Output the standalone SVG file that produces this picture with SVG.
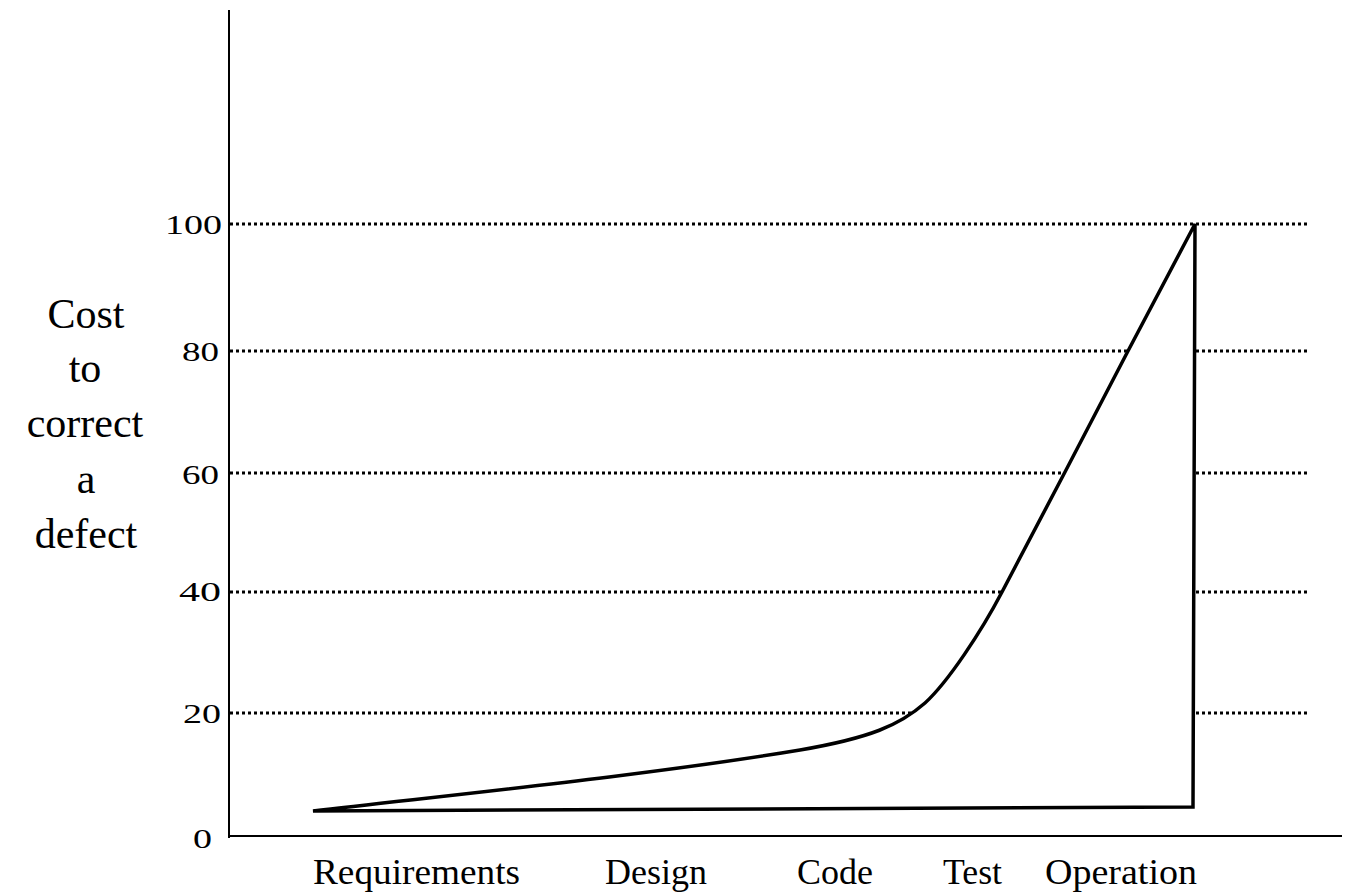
<svg xmlns="http://www.w3.org/2000/svg" width="1358" height="896" viewBox="0 0 1358 896">
  <style>
    .axis { stroke: #000; stroke-width: 2; fill: none; }
    .grid { stroke: #000; stroke-width: 3; stroke-dasharray: 3 3; fill: none; }
    .curve { stroke: #000; stroke-width: 3.5; fill: #fff; stroke-linejoin: miter; }
    .tick { font-family: "Liberation Serif", "Times New Roman", serif; font-size: 27px; fill: #000; text-anchor: end; }
    .ylab { font-family: "Liberation Serif", "Times New Roman", serif; font-size: 42px; fill: #000; text-anchor: middle; }
    .xlab { font-family: "Liberation Serif", "Times New Roman", serif; font-size: 35px; fill: #000; }
  </style>
  <rect width="1358" height="896" fill="#fff"/>

  <!-- horizontal dotted reference lines -->
  <g id="gridlines">
    <line class="grid" x1="230" y1="224" x2="1308" y2="224"/>
    <line class="grid" x1="230" y1="351" x2="1308" y2="351"/>
    <line class="grid" x1="230" y1="473" x2="1308" y2="473"/>
    <line class="grid" x1="230" y1="592" x2="1308" y2="592"/>
    <line class="grid" x1="230" y1="713" x2="1308" y2="713"/>
  </g>

  <!-- axes -->
  <g id="axes">
    <line class="axis" x1="229" y1="10" x2="229" y2="838"/>
    <line class="axis" x1="228" y1="836" x2="1342" y2="836"/>
  </g>

  <!-- cost curve, closed and filled white -->
  <g id="cost-curve">
    <path class="curve" d="M313,811 C450,795 650,775 800,750 C870,738 900,725 925,703 C948,682 981,632 1002,592 L1065,472 L1128,351 L1195,224 L1193,807 Z"/>
  </g>

  <!-- y axis tick labels -->
  <g id="y-ticks">
    <text class="tick" x="222" y="234" textLength="57" lengthAdjust="spacingAndGlyphs">100</text>
    <text class="tick" x="219" y="361" textLength="37" lengthAdjust="spacingAndGlyphs">80</text>
    <text class="tick" x="219" y="484" textLength="37" lengthAdjust="spacingAndGlyphs">60</text>
    <text class="tick" x="221" y="601" textLength="42" lengthAdjust="spacingAndGlyphs">40</text>
    <text class="tick" x="221" y="723" textLength="38" lengthAdjust="spacingAndGlyphs">20</text>
    <text class="tick" x="212" y="848" textLength="19" lengthAdjust="spacingAndGlyphs">0</text>
  </g>

  <!-- y axis title -->
  <g id="y-title">
    <text class="ylab" x="86" y="328">Cost</text>
    <text class="ylab" x="85" y="382">to</text>
    <text class="ylab" x="85" y="437">correct</text>
    <text class="ylab" x="86" y="493">a</text>
    <text class="ylab" x="86" y="548">defect</text>
  </g>

  <!-- phase labels -->
  <g id="x-labels">
    <text class="xlab" x="313" y="884" textLength="207" lengthAdjust="spacingAndGlyphs">Requirements</text>
    <text class="xlab" x="605" y="884" textLength="102" lengthAdjust="spacingAndGlyphs">Design</text>
    <text class="xlab" x="797" y="884" textLength="76" lengthAdjust="spacingAndGlyphs">Code</text>
    <text class="xlab" x="943" y="884" textLength="59" lengthAdjust="spacingAndGlyphs">Test</text>
    <text class="xlab" x="1045" y="884" textLength="152" lengthAdjust="spacingAndGlyphs">Operation</text>
  </g>
</svg>
